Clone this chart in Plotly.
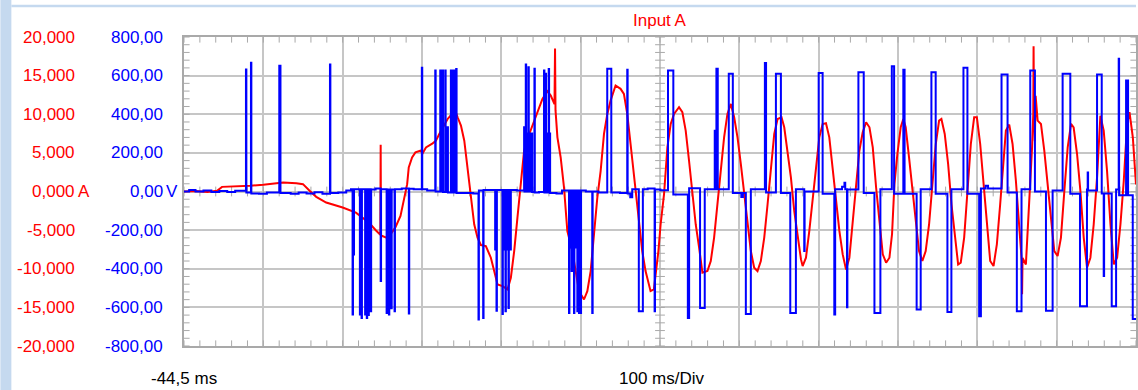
import numpy as np
import plotly.graph_objects as go

# ---------------------------------------------------------------------------
# Recorded channels: time in ms, Input A current in A, Input B voltage in V
# ---------------------------------------------------------------------------
current_points = [
    (-44.5, 0.0), (-30, 0.05), (-15, -0.05), (-2.8, 0.09), (3.4, 0.6), (20, 0.65),
    (38.8, 0.74), (55.5, 0.87), (72.2, 1.08), (80.5, 1.17), (97.2, 1.08), (105.5, 0.95),
    (113.8, 0.09), (122.2, -0.69), (134.7, -1.43), (155.5, -2.08), (172.2, -2.73),
    (180.5, -3.38), (188.8, -4.03), (197.2, -5.02), (203.0, -5.6), (203.4, 6.06),
    (203.8, -5.7), (205.5, -5.76), (210.5, -5.97), (215.9, -5.54), (222.2, -4.59),
    (228.4, -3.16), (234.7, -0.35), (236.8, 0.95), (238.8, 3.12), (243.0, 4.42),
    (247.2, 5.06), (253.4, 5.28), (256.3, 4.94), (260.5, 5.71), (268.9, 6.23),
    (273.1, 6.58), (277.3, 7.45), (281.5, 8.31), (287.8, 9.39), (294.1, 10.13),
    (297.4, 10.48), (300.4, 9.61), (304.6, 8.53), (308.8, 6.58), (313.0, 2.68),
    (317.1, -0.78), (321.3, -4.24), (325.5, -5.97), (329.7, -6.93), (336.0, -7.06),
    (342.3, -8.57), (346.5, -10.3), (350.7, -12.03), (357.0, -12.25), (363.3, -12.68),
    (367.5, -11.17), (371.7, -7.71), (375.8, -3.38), (380.0, 0.95), (384.2, 5.28),
    (388.4, 6.8), (394.7, 8.53), (401.0, 10.48), (407.3, 11.99), (413.6, 12.99),
    (417.8, 12.42), (422.5, 11.3), (423.2, 18.5), (423.8, 10.5), (426.2, 7.01),
    (430.3, 4.42), (434.5, 0.52), (438.7, -5.11), (445.0, -7.71), (449.2, -10.3),
    (453.4, -12.9), (459.7, -13.98), (463.9, -12.9), (468.1, -10.3), (472.3, -5.54),
    (476.5, -0.78), (480.7, 2.68), (484.9, 7.45), (489.1, 10.04), (493.2, 11.77),
    (499.5, 13.72), (505.8, 13.29), (510.0, 12.64), (514.2, 10.04), (518.4, 6.15),
    (524.7, 0.09), (528.9, -4.24), (533.1, -7.71), (537.3, -10.3), (543.6, -12.9),
    (547.8, -12.68), (550.5, -10.3), (553.5, -7.71), (556.3, -4.24), (560.6, -0.35),
    (564.8, 5.71), (569.0, 8.74), (573.2, 10.04), (579.5, 10.91), (583.7, 10.26),
    (587.9, 7.88), (592.1, 3.98), (596.3, -0.35), (600.5, -4.24), (604.8, -7.27),
    (609.0, -10.52), (615.3, -10.3), (619.5, -9.0), (623.7, -5.97), (627.9, -1.65),
    (632.1, 2.68), (636.3, 7.01), (640.5, 10.04), (644.8, 11.34), (649.0, 9.61),
    (653.2, 7.01), (657.4, 3.55), (661.6, -0.35), (665.8, -4.24), (670.0, -7.71),
    (674.2, -9.87), (678.4, -10.3), (682.6, -9.0), (686.9, -5.97), (691.1, -1.65),
    (695.3, 3.12), (699.5, 7.45), (703.7, 9.39), (708.7, 9.61), (712.1, 8.31),
    (716.3, 5.28), (720.5, 1.82), (724.7, -2.51), (728.9, -5.97), (733.2, -8.79),
    (735.3, -9.65), (739.5, -8.57), (743.7, -5.11), (747.9, -1.21), (752.1, 2.68),
    (756.3, 7.01), (760.5, 8.74), (764.7, 8.83), (768.9, 7.01), (773.2, 2.68),
    (777.4, -1.65), (781.6, -5.11), (785.8, -8.14), (790.0, -10.09), (794.2, -8.57),
    (798.4, -4.24), (802.6, 0.52), (806.8, 5.28), (811.0, 7.66), (815.3, 8.96),
    (819.5, 8.31), (823.7, 5.71), (827.9, 0.52), (832.1, -4.24), (836.3, -8.14),
    (840.5, -9.22), (844.7, -8.57), (848.0, -5.5), (851.0, 0.95), (854.7, 4.85),
    (858.9, 8.31), (862.2, 9.39), (865.2, 8.31), (869.4, 4.42), (873.6, 0.52),
    (877.8, -4.24), (882.0, -7.71), (886.2, -9.0), (890.4, -7.71), (894.7, -4.24),
    (898.9, 0.95), (903.1, 6.15), (907.3, 9.18), (910.2, 9.39), (914.4, 7.45),
    (918.7, 3.55), (922.9, -1.65), (927.1, -5.97), (931.3, -9.44), (934.6, -9.22),
    (938.9, -5.97), (943.1, 0.09), (947.3, 6.15), (951.5, 9.61), (954.9, 9.61),
    (959.1, 6.15), (963.3, 1.39), (967.5, -4.24), (971.7, -9.0), (975.9, -9.65),
    (980.1, -6.84), (984.3, -1.65), (988.5, 3.98), (991.5, 7.88), (995.7, 8.66),
    (999.9, 6.15), (1004.1, 1.39), (1008.3, -4.24), (1011.5, -9.0), (1011.9, -13.3),
    (1012.5, -8.6), (1016.7, -9.44), (1021.0, -1.65), (1024.5, 5.71), (1026.0, 10.0),
    (1026.4, 18.8), (1026.8, 12.0), (1028.0, 6.5), (1029.0, 12.4), (1031.5, 9.18),
    (1035.7, 8.74), (1039.9, 5.28), (1044.1, 0.95), (1048.3, -4.24), (1052.5, -7.71),
    (1056.7, -8.35), (1060.9, -5.97), (1065.2, 0.09), (1069.4, 5.71), (1073.6, 8.74),
    (1076.9, 8.31), (1081.2, 4.85), (1085.4, 0.09), (1089.6, -5.97), (1093.8, -9.87),
    (1098.0, -8.57), (1102.2, -4.24), (1106.4, 1.82), (1110.6, 9.8), (1114.8, 7.88),
    (1119.0, 2.68), (1123.3, -4.24), (1127.5, -9.44), (1131.7, -8.57), (1135.9, -4.24),
    (1140.1, 1.39), (1144.3, 8.74), (1147.3, 10.26), (1151.5, 7.01), (1155.5, 0.9),
]

# Voltage as level changes: each level holds until the next entry
voltage_steps = [
    (-44.5, 0), (-38, 8), (-30, 0), (-20, 5), (-10, -3), (0, 3), (10, -2), (20, 4),
    (33.6, 632), (34.1, -5), (39.9, 667), (40.4, -10), (50, -12), (60, -5),
    (75.6, 651), (76.1, 315), (76.7, 651), (77.1, -8), (90, -12), (100, -5),
    (110, -10), (120, -4), (130, -12), (139.5, 658), (140.0, -8), (150, -5),
    (160, 5), (166, 12),
    (168.0, -637), (168.5, 12), (169.3, -326), (169.8, 12), (177.2, -637), (177.7, 12),
    (179.3, -655), (179.8, 12), (183.8, -637), (184.3, 12), (185.9, -655), (186.4, 12),
    (188.0, -640), (188.5, 12), (190.9, -620), (191.4, 10), (197, 15),
    (203.4, -464), (203.9, 12),
    (210.9, -629), (211.4, 10), (212.2, -300), (212.8, 10), (213.8, -637), (214.3, 10),
    (215.2, -300), (215.8, 10), (216.8, -605), (217.3, 10), (220.9, -620), (221.4, 12),
    (230, 15), (238.9, -632), (239.4, 14), (245, 12),
    (255.3, 641), (255.8, 12), (262, 5),
    (272.2, 627), (272.7, 0), (278.5, 627), (279.0, 0), (281.5, 627), (282.0, -3),
    (284.8, 627), (285.3, -3), (287.7, 333), (288.2, -5), (291.9, 627), (292.4, -5),
    (294.0, 627), (294.5, -5), (295.7, 627), (296.2, -5), (297.4, 307), (297.9, -5),
    (298.6, 634), (299.1, -8), (310, -8), (320, -10),
    (326.7, -663), (327.2, 5), (332.6, -655), (333.1, 8), (340, 8),
    (347.7, -300), (348.2, 8), (349.4, -617), (349.9, 8),
    (356.9, -634), (357.4, 8), (358.2, -300), (358.7, 8), (359.5, -300), (360.0, 8),
    (360.7, -620), (361.2, 8), (362.0, -300), (362.5, 8), (363.2, -300), (363.7, 8),
    (364.5, -603), (365.0, 8), (365.7, -300), (366.2, 8), (367.0, -300), (367.5, 8),
    (375, 5),
    (384.2, 333), (384.7, 0), (386.3, 658), (386.8, 0), (388.4, 300), (388.9, 0),
    (389.6, 644), (390.1, 0), (391.7, 300), (392.2, 0), (393.8, 300), (394.3, -3),
    (397.2, 636), (397.7, -5), (403, -3),
    (409.3, 627), (409.8, -5), (411.4, 610), (411.9, -5), (412.7, 300), (413.2, -5),
    (413.9, 300), (414.4, -5), (415.2, 634), (415.7, -5), (416.5, 300), (417.0, -8),
    (425, -10), (432, 5),
    (440.8, -629), (441.3, 5), (442.9, -290), (443.4, 5), (444.1, -412), (444.6, 5),
    (445.8, -290), (446.3, 5), (447.1, -629), (447.6, 5), (448.3, -290), (448.8, 5),
    (449.6, -290), (450.1, 5), (451.3, -620), (451.8, 5), (453.4, -629), (453.9, 5),
    (455.5, -629), (456.0, 5), (462, 0), (470.1, -629), (470.6, 0), (478, -5),
    (489.0, 636), (494.1, -5), (505, -8), (514.2, 630), (514.7, -10), (518, -30),
    (520.5, 12), (528.8, -620), (533.9, 12), (540, 15), (548.7, -620), (549.2, 10),
    (556, 7), (565.6, 627), (572.3, -15), (585, -15), (590.6, -655), (592.2, 17),
    (606.0, -603), (611.9, 12), (624.5, 315), (625.0, 12), (626.6, 636), (628.3, 12),
    (642.2, 610), (647.3, -8), (658, -28), (660, -8), (663.7, -634), (670.0, 12),
    (687.7, 665), (689.2, -5), (701.6, 610), (707.9, -8), (719.7, -629), (726.8, 12),
    (737.3, -308), (737.8, 0), (755.5, 613), (760.5, -12), (775.2, -637), (776.3, 12),
    (785, 25), (788, 45), (789, 12), (791.2, -599), (791.7, 10),
    (805.6, 618), (812.3, -8), (825.8, -629), (833.3, 12), (847.7, 648), (850.6, -12),
    (862.2, 630), (863.8, -12), (879.0, -611), (884.1, 12), (897.6, 618), (903.0, -12),
    (917.8, -624), (922.8, 12), (938.0, 641), (943.0, -12), (957.8, -646), (960.0, 15),
    (966, 30), (969, 15), (986.0, 606), (993.6, -5), (1005.3, -620), (1011.2, 12),
    (1022.2, 627), (1028.1, 0), (1042.0, -617), (1050.4, 5), (1063.0, 610), (1072.7, -12),
    (1084.9, -594), (1093.7, 10), (1094.6, 99), (1095.1, 5), (1106.4, 606), (1112.3, -10),
    (1114.8, -438), (1115.3, -10), (1124.9, -594), (1130.4, 10), (1133.7, 688),
    (1134.2, -20), (1143.0, 575), (1145.5, -20), (1151.4, -660), (1155.5, -660),
]

amp_ticks = [20, 15, 10, 5, 0, -5, -10, -15, -20]
volt_ticks = [800, 600, 400, 200, 0, -200, -400, -600, -800]
time_start = -44.5      # ms at the left edge of the screen
time_per_div = 100      # ms per horizontal division
n_divs = 12

current_t, current_a = zip(*current_points)
voltage_t, voltage_v = zip(*voltage_steps)

# ---------------------------------------------------------------------------
W, H = 1138, 390
ML, MR, MT, MB = 184, 0, 37, 44
PW, PH = W - ML - MR, H - MT - MB


def px_x(px):
    return (px - ML) / PW


def px_y(py):
    return (H - MB - py) / PH


t_end = time_start + n_divs * time_per_div
RED = "#ff0000"
BLUE = "#0000ff"
GRID = "#c6c6c6"
FRAME = "#a9a9a9"
FONT = "Liberation Sans"

fig = go.Figure()

# minor graticule ticks: frame edges and the two centre axes
minor_t = np.arange(time_start, t_end + 0.01, time_per_div / 5)
minor_a = np.arange(-20, 20.01, 1.0)
t_mid = time_start + n_divs / 2 * time_per_div
tick_marker = dict(color=FRAME, line=dict(color=FRAME, width=1))
for yv, size in [(-20, 8), (20, 8), (0, 7)]:
    fig.add_trace(go.Scatter(
        x=minor_t, y=[yv] * len(minor_t), mode="markers", hoverinfo="skip",
        marker=dict(symbol="line-ns", size=size, **tick_marker), showlegend=False))
for xv, size in [(time_start, 8), (t_end, 8), (t_mid, 7)]:
    fig.add_trace(go.Scatter(
        x=[xv] * len(minor_a), y=minor_a, mode="markers", hoverinfo="skip",
        marker=dict(symbol="line-ew", size=size, **tick_marker), showlegend=False))

# voltage channel (blue) on its own scale
fig.add_trace(go.Scatter(
    x=voltage_t, y=voltage_v, mode="lines", yaxis="y2", line_shape="hv",
    line=dict(color=BLUE, width=2), showlegend=False, hoverinfo="skip"))

# current channel (red)
fig.add_trace(go.Scatter(
    x=current_t, y=current_a, mode="lines",
    line=dict(color=RED, width=2), showlegend=False, hoverinfo="skip"))

# trigger marker at t = 0
fig.add_trace(go.Scatter(
    x=[0], y=[-20.35], mode="markers", cliponaxis=False, hoverinfo="skip",
    marker=dict(symbol="triangle-up", size=5, color="black"), showlegend=False))

annotations = []


def label(text, x, y, color, anchor, yref="paper", size=17):
    annotations.append(dict(
        text=text, x=x, y=y, xref="paper", yref=yref, xanchor=anchor,
        yanchor="middle", showarrow=False, borderpad=0,
        font=dict(family=FONT, size=size, color=color)))


for a in amp_ticks:
    label(f"{a:.3f}".replace(".", ","), px_x(76), a, RED, "right", yref="y")
for v in volt_ticks:
    label(f"{v:.2f}".replace(".", ","), px_x(163.5), v / 40, BLUE, "right", yref="y")
label("A", px_x(76.5), 0, RED, "left", yref="y")
label("V", px_x(164.5), 0, BLUE, "left", yref="y")

label("Input A", 0.5, px_y(20.5), RED, "center")
label("-44,5 ms", px_x(184.5), px_y(378), "black", "center")
label("100 ms/Div", px_x(663), px_y(378), "black", "center")

# window frame
shapes = [
    dict(type="rect", xref="paper", yref="paper", x0=px_x(0), x1=px_x(11),
         y0=px_y(390), y1=px_y(0), fillcolor="#c5d9ef", line_width=0, layer="below"),
    dict(type="line", xref="paper", yref="paper", x0=px_x(11), x1=px_x(1138),
         y0=px_y(6), y1=px_y(6), line=dict(color="#c5d9ef", width=2.5)),
]

fig.update_layout(
    width=W, height=H,
    margin=dict(l=ML, r=MR, t=MT, b=MB, pad=0),
    paper_bgcolor="white", plot_bgcolor="white",
    xaxis=dict(range=[time_start, t_end], tick0=time_start, dtick=time_per_div,
               showgrid=True, gridcolor=GRID, gridwidth=2, zeroline=False,
               showticklabels=False, ticks="", showline=True, linecolor=FRAME,
               linewidth=2, mirror=True, fixedrange=True),
    yaxis=dict(range=[-20, 20], tick0=0, dtick=5, showgrid=True, gridcolor=GRID,
               gridwidth=2, zeroline=False, showticklabels=False, ticks="",
               showline=True, linecolor=FRAME, linewidth=2, mirror=True,
               fixedrange=True),
    yaxis2=dict(range=[-800, 800], overlaying="y", showgrid=False, zeroline=False,
                showticklabels=False, ticks="", showline=False, fixedrange=True),
    annotations=annotations,
    shapes=shapes,
    showlegend=False,
)

fig.write_html("out.html", config={"displayModeBar": False})
